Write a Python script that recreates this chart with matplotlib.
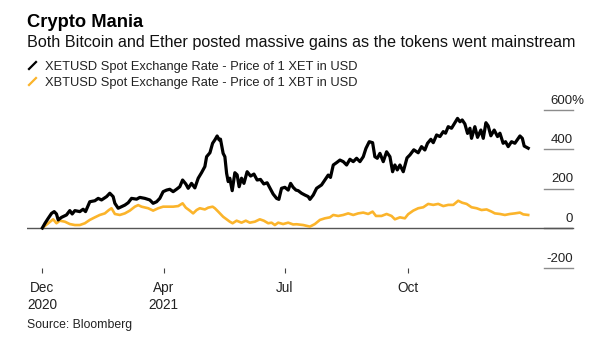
import matplotlib
matplotlib.use("Agg")
import matplotlib.pyplot as plt
import matplotlib.transforms as mtransforms
from matplotlib.lines import Line2D
import pandas as pd

plt.rcParams['font.family'] = ['Liberation Sans', 'DejaVu Sans']

start_date = "2020-12-31"

# XETUSD (Ether) % change since start: (days since start, value %)
eth_days = [0, 2.0, 4.4, 6.9, 8.9, 10.6, 11.9, 14.4, 18.1, 20.6, 22.4, 24.4, 28.1, 30.6, 32.4,
            35.6, 39.4, 41.9, 44.4, 48.2, 50.6, 53.1, 54.4, 56.9, 59.4, 61.9, 64.4, 66.9, 70.7,
            73.1, 76.9, 80.6, 83.1, 85.7, 88.1, 90.6, 93.2, 95.6, 98.1, 100.6, 103.1, 105.2,
            107.6, 109.4, 111.9, 114.4, 116.9, 119.4, 121.9, 123.2, 125.7, 127.7, 129.4, 131.1,
            132.6, 133.6, 135.6, 136.9, 138.2, 139.4, 140.6, 142.4, 144.4, 146.1, 147.6, 149.4,
            151.2, 153.6, 156.2, 158.7, 161.1, 163.6, 166.1, 168.6, 171.2, 173.1, 175.7, 177.4,
            179.4, 181.9, 184.4, 186.2, 188.1, 190.2, 191.9, 194.4, 196.9, 199.4, 200.7, 203.2,
            205.7, 209.4, 211.9, 214.4, 216.1, 218.2, 220.7, 223.2, 225.7, 228.2, 230.7, 233.2,
            235.7, 238.2, 240.7, 242.7, 245.2, 247.7, 249.4, 251.2, 253.2, 255.7, 258.2, 260.7,
            262.7, 264.4, 266.2, 268.2, 270.7, 273.5, 275.7, 278.6, 281.9, 284.4, 286.9, 288.9,
            291.4, 293.2, 295.7, 298.2, 300.7, 302.4, 304.4, 306.9, 308.9, 311.4, 313.2, 314.9,
            316.9, 318.9, 320.7, 321.9, 324.4, 326.4, 328.9, 330.7, 332.7, 334.4, 336.4, 338.9,
            341.4, 343.2, 345.6, 347.4, 349.4, 351.9, 354.4, 358.2, 360.0, 361.4, 364.4]
eth_vals = [0, 24, 49, 74, 83, 71, 41, 54, 66, 88, 71, 88, 83, 95, 83,
            133, 138, 150, 142, 159, 176, 159, 125, 100, 108, 116, 128, 150, 146,
            155, 150, 142, 125, 133, 150, 184, 192, 196, 184, 196, 209, 243,
            223, 201, 226, 203, 252, 280, 311, 361, 381, 429, 446, 466,
            446, 450, 378, 361, 277, 235, 252, 189, 280, 269, 209, 252,
            226, 285, 263, 273, 243, 246, 223, 229, 196, 172, 150, 145,
            201, 206, 192, 226, 206, 192, 189, 176, 167, 159, 145, 167,
            201, 218, 243, 268, 256, 319, 331, 344, 336, 319, 348, 336,
            353, 336, 361, 403, 437, 432, 361, 353, 378, 336, 386, 361,
            285, 319, 294, 319, 285, 355, 370, 396, 381, 412, 395, 429,
            449, 432, 471, 463, 488, 480, 513, 505, 527, 555, 538, 547,
            527, 479, 505, 454, 513, 459, 496, 454, 533, 517, 467, 496,
            463, 480, 429, 437, 412, 437, 429, 466, 454, 415, 404]

# XBTUSD (Bitcoin) % change since start
btc_days = [0, 4.4, 8.1, 10.6, 13.1, 16.9, 20.6, 24.4, 28.1, 31.9, 35.6, 39.4, 43.1, 46.9,
            49.9, 51.9, 54.4, 58.1, 61.9, 65.6, 69.4, 71.9, 74.4, 79.4, 83.1, 86.9, 90.6, 94.4,
            98.1, 101.9, 105.2, 107.6, 110.6, 113.1, 115.7, 118.1, 121.9, 124.4, 127.7, 129.4,
            131.9, 135.6, 138.2, 140.6, 142.7, 145.7, 149.4, 152.6, 155.6, 159.4, 163.1, 166.1,
            169.4, 171.9, 174.4, 176.9, 180.6, 184.4, 188.1, 190.7, 195.7, 200.7, 204.4, 208.2,
            211.9, 215.7, 218.2, 221.9, 225.7, 229.4, 233.2, 236.9, 240.7, 244.4, 247.7, 250.2,
            254.4, 258.2, 261.9, 264.4, 268.2, 271.9, 274.4, 278.2, 281.9, 285.7, 289.4, 293.2,
            296.9, 300.7, 304.4, 308.2, 311.9, 314.9, 318.2, 321.9, 325.7, 329.4, 333.2, 336.9,
            339.4, 343.2, 346.9, 350.7, 354.4, 358.2, 360.7, 364.4]
btc_vals = [0, 24, 44, 24, 37, 32, 20, 15, 15, 24, 41, 54, 66, 74,
            91, 100, 71, 66, 74, 88, 108, 116, 108, 100, 88, 100, 108, 108,
            108, 111, 125, 103, 88, 74, 91, 100, 94, 103, 108, 100,
            83, 57, 44, 32, 24, 37, 27, 37, 27, 32, 44, 37,
            24, 27, 15, 27, 20, 27, 18, 19, 15, 7, 20, 41,
            49, 54, 66, 61, 66, 74, 66, 74, 78, 71, 83, 61,
            61, 71, 61, 44, 54, 49, 70, 88, 100, 105, 122, 117,
            122, 111, 117, 117, 138, 128, 122, 105, 100, 91, 94, 83,
            74, 71, 66, 71, 74, 78, 69, 66]

y_ticks = [-200, 0, 200, 400, 600]
x_tick_dates = ["2020-12-31", "2021-04-01", "2021-07-01", "2021-10-01"]
x_tick_labels = ["Dec\n2020", "Apr\n2021", "Jul", "Oct"]

title = "Crypto Mania"
subtitle = "Both Bitcoin and Ether posted massive gains as the tokens went mainstream"
legend_labels = ["XETUSD Spot Exchange Rate - Price of 1 XET in USD",
                 "XBTUSD Spot Exchange Rate - Price of 1 XBT in USD"]
source = "Source: Bloomberg"

ETH_COLOR = "#000000"
BTC_COLOR = "#fbb42b"

t0 = pd.Timestamp(start_date)
eth_dates = [t0 + pd.Timedelta(days=d) for d in eth_days]
btc_dates = [t0 + pd.Timedelta(days=d) for d in btc_days]

W, H = 604, 358
fig = plt.figure(figsize=(W / 100, H / 100), dpi=100)
ax_left, ax_right = 27, 573
ax_top, ax_bottom = 101.6, 267.5
ax = fig.add_axes([ax_left / W, 1 - ax_bottom / H, (ax_right - ax_left) / W, (ax_bottom - ax_top) / H])

ax.plot(btc_dates, btc_vals, color=BTC_COLOR, lw=1.9, solid_joinstyle='round', zorder=3)
ax.plot(eth_dates, eth_vals, color=ETH_COLOR, lw=2.3, solid_joinstyle='round', zorder=4)

ax.set_ylim(-200, 640)
ax.set_xlim(t0 - pd.Timedelta(days=11.5), t0 + pd.Timedelta(days=398))

for s in ax.spines.values():
    s.set_visible(False)
ax.set_yticks([])

# zero baseline across the full width
ax.axhline(0, color="#555555", lw=1.0, zorder=2)
# short gridlines at the right, labels above them
trans = mtransforms.blended_transform_factory(ax.transAxes, ax.transData)
g0 = (544 - ax_left) / (ax_right - ax_left)
for v in y_ticks:
    ax.plot([g0, 1.0], [v, v], transform=trans,
            color="#555555" if v == 0 else "#8c8c8c", lw=1.0, clip_on=False, zorder=1)
    if v == 600:
        off = mtransforms.offset_copy(trans, fig=fig, x=11, y=6, units='dots')
        ax.text(1.0, v, f"{v}%", transform=off, ha='right', va='baseline', fontsize=9.5, color="#222222")
    else:
        off = mtransforms.offset_copy(trans, fig=fig, x=0, y=6, units='dots')
        ax.text(1.0, v, f"{v}", transform=off, ha='right', va='baseline', fontsize=9.5, color="#222222")

ax.set_xticks([pd.Timestamp(d) for d in x_tick_dates])
ax.set_xticklabels(x_tick_labels, fontsize=9.8, color="#222222", linespacing=1.25)
ax.tick_params(axis='x', length=3.6, width=0.8, color="#444444", pad=6)

# titles and legend
fig.text(27 / W, 1 - 27 / H, title, fontsize=13.2, fontweight='bold', ha='left', va='baseline')
fig.text(27 / W, 1 - 47 / H, subtitle, fontsize=11.58, ha='left', va='baseline', color="#111111")
for i, (lab, col) in enumerate(zip(legend_labels, [ETH_COLOR, BTC_COLOR])):
    yb = 70 + i * 16
    fig.add_artist(Line2D([29 / W, 36 / W], [1 - (yb - 1) / H, 1 - (yb - 8) / H], color=col, lw=1.6,
                          transform=fig.transFigure))
    fig.text(45 / W, 1 - yb / H, lab, fontsize=9.3, ha='left', va='baseline', color="#222222")

fig.text(27 / W, 1 - 328 / H, source, fontsize=8.8, ha='left', va='baseline', color="#222222")

fig.savefig("out.png", dpi=100)
